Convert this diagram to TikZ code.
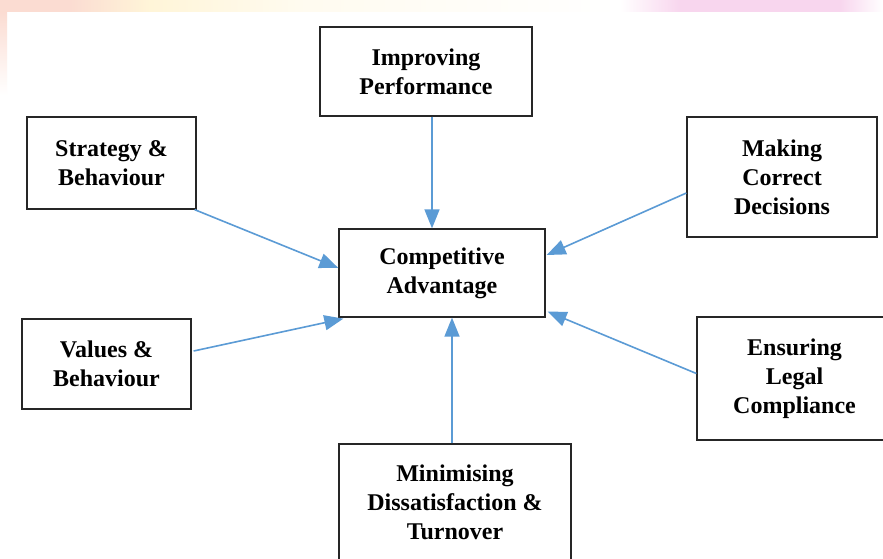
\documentclass[tikz,border=0pt]{standalone}
\usepackage{fontspec}
\setmainfont{Liberation Serif}
\usetikzlibrary{arrows.meta,calc}

\definecolor{arrowblue}{HTML}{5B9BD5}
\definecolor{boxline}{HTML}{262626}
\definecolor{peach}{HTML}{FBDCD2}
\definecolor{paleyellow}{HTML}{FFF5D8}
\definecolor{palepink}{HTML}{F8D6EE}

\tikzset{
  box/.style={draw=boxline, line width=1.3pt, fill=white, inner sep=0pt,
    align=center, font=\bfseries\fontsize{24}{29}\selectfont},
  feed/.style={draw=arrowblue, line width=1.6pt,
    -{Triangle[length=19pt,width=15pt]}, fill=arrowblue},
}

\begin{document}
\begin{tikzpicture}[x=1pt, y=-1pt]
  \useasboundingbox (0,0) rectangle (883,559);
  \fill[white] (0,0) rectangle (883,559);

  % soft coloured band along the top edge and the left margin
  \shade[left color=peach, right color=peach] (0,0) rectangle (70,12);
  \shade[left color=peach, right color=paleyellow] (70,0) rectangle (150,12);
  \shade[left color=paleyellow, right color=paleyellow!40!white] (150,0) rectangle (300,12);
  \shade[left color=paleyellow!40!white, right color=white] (300,0) rectangle (620,12);
  \shade[left color=white, right color=palepink] (620,0) rectangle (680,12);
  \shade[left color=palepink, right color=palepink] (680,0) rectangle (840,12);
  \shade[left color=palepink, right color=white] (840,0) rectangle (883,12);
  \shade[top color=peach, bottom color=white] (0,12) rectangle (7,95);

  % boxes
  \node[box, minimum width=212pt, minimum height=89pt] (imp) at (426,71.5)
    {Improving\\Performance};
  \node[box, minimum width=169pt, minimum height=92pt] (str) at (111.5,163)
    {Strategy \&\\Behaviour};
  \node[box, minimum width=190pt, minimum height=120pt] (mak) at (782,177)
    {Making\\Correct\\Decisions};
  \node[box, minimum width=206pt, minimum height=88pt] (ca) at (442,273)
    {Competitive\\Advantage};
  \node[box, minimum width=169pt, minimum height=90pt] (val) at (106.5,364)
    {Values \&\\Behaviour};
  \node[box, minimum width=195pt, minimum height=123pt] (ens) at (794.5,378.5)
    {Ensuring\\Legal\\Compliance};
  \node[box, minimum width=232pt, minimum height=117pt] (min) at (455,502.5)
    {Minimising\\Dissatisfaction \&\\Turnover};

  % connectors into the central box
  \draw[feed] ($(imp.south)+(6,0)$) -- ($(ca.north)+(-10,0)$);
  \draw[feed] ($(str.south east)+(-2,0)$) -- ($(ca.west)+(0,-5)$);
  \draw[feed] ($(mak.west)+(0,16)$) -- ($(ca.east)+(1,-18)$);
  \draw[feed] ($(val.east)+(2,-13)$) -- ($(ca.south west)+(5,1)$);
  \draw[feed] ($(ens.west)+(0,-5)$) -- ($(ca.south east)+(2,-6)$);
  \draw[feed] ($(min.north)+(-3,0)$) -- ($(ca.south)+(10,0)$);
\end{tikzpicture}
\end{document}
